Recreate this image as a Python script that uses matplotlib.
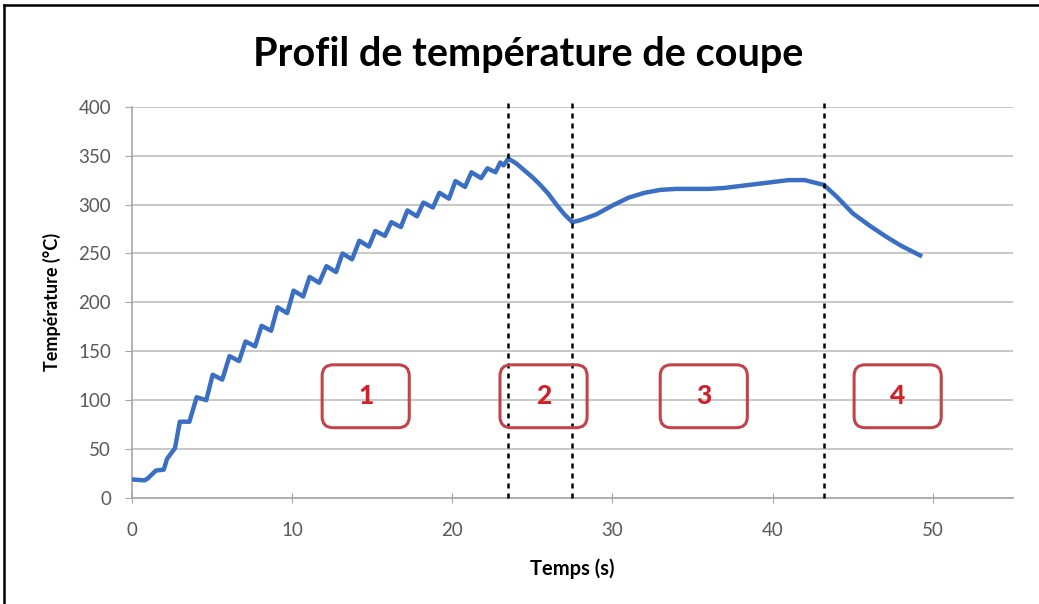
import numpy as np
import matplotlib as mpl
mpl.use('Agg')
import matplotlib.pyplot as plt
from matplotlib.patches import FancyBboxPatch
from matplotlib.lines import Line2D

# temps (s) / température (°C)
temps = [0, 0.8, 1.0, 1.5, 2.0, 2.2, 2.7, 3.0, 3.6, 4.05, 4.65, 5.05, 5.65, 6.1, 6.7,
         7.1, 7.7, 8.1, 8.7, 9.1, 9.7, 10.1, 10.7, 11.1, 11.7, 12.15, 12.75, 13.15,
         13.75, 14.2, 14.8, 15.2, 15.8, 16.2, 16.8, 17.2, 17.8, 18.2, 18.8, 19.2,
         19.8, 20.2, 20.8, 21.2, 21.8, 22.2, 22.7, 23.0, 23.2, 23.5,
         24.0, 24.5, 25.0, 25.5, 26.0, 26.5, 27.0, 27.5, 28.0, 29.0, 30.0, 31.0,
         32.0, 33.0, 34.0, 35.0, 36.0, 37.0, 38.0, 39.0, 40.0, 41.0, 42.0, 43.2,
         44.0, 45.0, 46.0, 47.0, 48.0, 49.2]
temperature = [19, 18, 20, 28, 29, 40, 51, 78, 78, 103, 100, 126, 121, 145, 140,
               160, 155, 176, 171, 195, 189, 212, 206, 226, 220, 237, 231, 250,
               244, 263, 257, 273, 268, 282, 277, 294, 288, 302, 297, 312,
               306, 324, 318, 333, 327, 337, 333, 343, 340, 347,
               342, 335, 328, 320, 311, 300, 290, 282, 284, 290, 299, 307,
               312, 315, 316, 316, 316, 317, 319, 321, 323, 325, 325, 320,
               308, 291, 279, 268, 258, 248]

limites_phases = [23.5, 27.5, 43.2]
phases = ['1', '2', '3', '4']
phases_x = [14.6, 25.7, 35.7, 47.8]
phases_y = 104

plt.rcParams['font.family'] = ['Lato', 'DejaVu Sans']

fig = plt.figure(figsize=(10.39, 6.04), dpi=100)
ax = fig.add_axes([0.1268, 0.1755, 0.975 - 0.1268, 0.8233 - 0.1755])

ax.plot(temps, temperature, color='#3a6fc3', lw=3.2, solid_joinstyle='round', zorder=3)

for xv in limites_phases:
    ax.plot([xv, xv], [0, 404], color='black', lw=1.8, ls=(0, (2, 2)),
            clip_on=False, zorder=4)

# cadres des phases
px_x = 16.0   # pixels par seconde
px_y = 0.98   # pixels par °C
bw, bh = 87 / px_x, 63 / px_y
for lab, cx in zip(phases, phases_x):
    box = FancyBboxPatch((cx - bw / 2, phases_y - bh / 2), bw, bh,
                         boxstyle='round,pad=0,rounding_size=%f' % (11 / px_x),
                         mutation_aspect=px_x / px_y,
                         fc='none', ec='#c0454b', lw=2.2, zorder=5)
    ax.add_patch(box)
    ax.text(cx, phases_y, lab, color='#d0202a', fontsize=19, fontweight='black',
            ha='center', va='center', zorder=6)

ax.set_xlim(0, 55)
ax.set_ylim(0, 400)
ax.set_xticks(np.arange(0, 51, 10))
ax.set_yticks(np.arange(0, 401, 50))
ax.grid(axis='y', color='#c4c4c4', lw=1.3)
ax.set_axisbelow(True)

for s in ['top', 'right']:
    ax.spines[s].set_visible(False)
ax.spines['left'].set_color('#a6a6a6')
ax.spines['bottom'].set_color('#a6a6a6')
ax.spines['left'].set_linewidth(1.2)
ax.spines['bottom'].set_linewidth(1.2)
ax.tick_params(axis='y', direction='out', length=5, color='#a6a6a6',
               labelsize=13.5, labelcolor='#595959', pad=10)
ax.tick_params(axis='x', direction='inout', length=7, color='#a6a6a6',
               labelsize=13.5, labelcolor='#595959', pad=14)

ax.set_xlabel('Temps (s)', fontsize=14.5, fontweight='bold', labelpad=14)
ax.set_ylabel('Température (°C)', fontsize=13, fontweight='bold', labelpad=12)

fig.text(0.508, 0.909, 'Profil de température de coupe', fontsize=28.5,
         fontweight='bold', ha='center', va='center')

# bord de la capture (haut et gauche)
fig.add_artist(Line2D([4 / 1039, 1], [1 - 5 / 604, 1 - 5 / 604],
                      transform=fig.transFigure, color='black', lw=1.8))
fig.add_artist(Line2D([4 / 1039, 4 / 1039], [0, 1 - 5 / 604],
                      transform=fig.transFigure, color='black', lw=1.8))

fig.savefig('out.png', dpi=100)
